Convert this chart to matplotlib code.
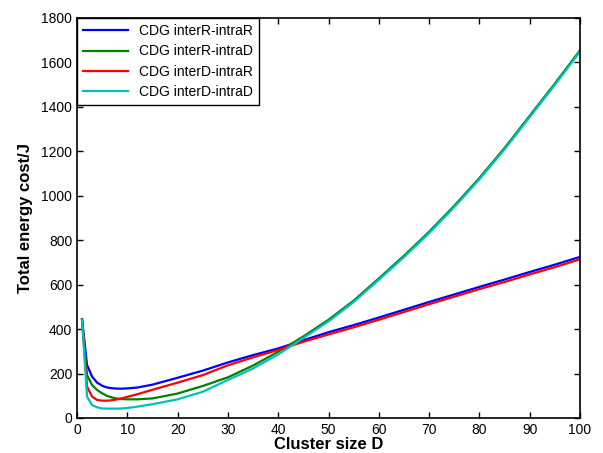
import matplotlib
matplotlib.use('Agg')
import matplotlib.pyplot as plt

plt.rcParams['font.family'] = ['Liberation Sans', 'DejaVu Sans']

# Cluster size D
cluster_size = [1, 2, 3, 4, 5, 6, 7, 8, 9, 10, 12, 15, 20, 25, 30, 35, 40, 45,
                50, 55, 60, 65, 70, 75, 80, 85, 90, 95, 100]

# Total energy cost (J)
inter_r_intra_r = [445, 238, 186, 159, 145, 137, 134, 132, 132, 133, 137, 150, 181, 213, 250,
                   283, 313, 350, 386, 418, 452, 487, 522, 556, 590, 623, 657, 690, 725]
inter_r_intra_d = [445, 193, 148, 126, 111, 99, 92, 87, 85, 84, 84, 88, 110, 144, 183,
                   236, 298, 367, 442, 528, 628, 730, 838, 955, 1080, 1215, 1360, 1505, 1655]
inter_d_intra_r = [440, 141, 96, 81, 78, 78, 80, 84, 89, 95, 107, 127, 159, 193, 237,
                   273, 306, 343, 376, 408, 442, 477, 512, 546, 580, 612, 646, 679, 714]
inter_d_intra_d = [440, 96, 58, 48, 43, 42, 42, 42, 43, 45, 51, 62, 84, 118, 171,
                   223, 286, 360, 435, 522, 622, 724, 832, 949, 1074, 1209, 1354, 1499, 1649]

series = [
    ('CDG interR-intraR', inter_r_intra_r, (0, 0, 1)),
    ('CDG interR-intraD', inter_r_intra_d, (0, 0.5, 0)),
    ('CDG interD-intraR', inter_d_intra_r, (1, 0, 0)),
    ('CDG interD-intraD', inter_d_intra_d, (0, 0.75, 0.75)),
]

fig = plt.figure(figsize=(6.03, 4.53), dpi=100)
ax = fig.add_axes([0.1277, 0.0773, 0.8342, 0.883])

for label, values, color in series:
    ax.plot(cluster_size, values, color=color, linewidth=1.6, label=label)

ax.set_xlim(0, 100)
ax.set_ylim(0, 1800)
ax.set_xticks(range(0, 101, 10))
ax.set_yticks(range(0, 1801, 200))
ax.tick_params(direction='in', top=True, right=True, labelsize=10, length=4, width=1)
for spine in ax.spines.values():
    spine.set_linewidth(1.2)

ax.set_xlabel('Cluster size D', fontsize=12, fontweight='bold', labelpad=0)
ax.set_ylabel('Total energy cost/J', fontsize=12, fontweight='bold', labelpad=6)

leg = ax.legend(loc='upper left', fontsize=10, fancybox=False, framealpha=1,
                edgecolor='black', borderaxespad=0, handlelength=3.2,
                labelspacing=0.45, borderpad=0.45)
leg.get_frame().set_linewidth(1.0)

plt.savefig('out.png', dpi=100)
plt.close()
